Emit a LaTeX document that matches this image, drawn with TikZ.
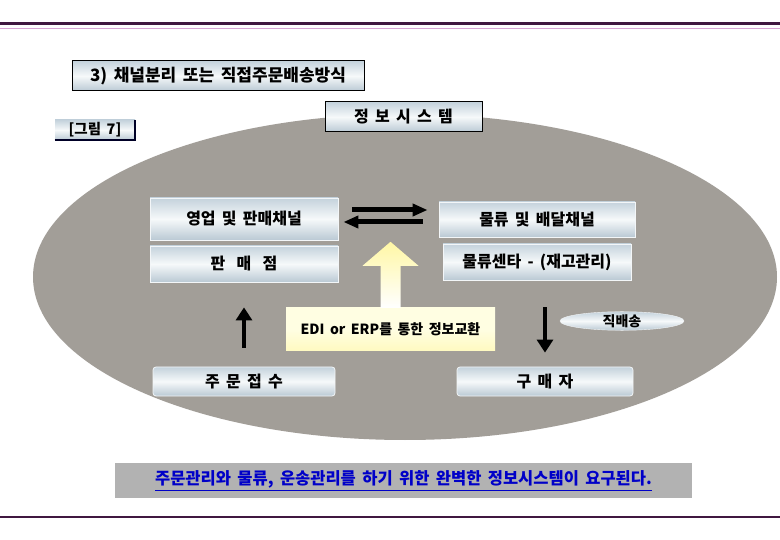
\documentclass[tikz,border=0pt]{standalone}
\usepackage{fontspec}
\setmainfont{Noto Sans CJK KR}[WordSpace=1.7]
\usetikzlibrary{arrows.meta,shapes.geometric}

\definecolor{linedark}{RGB}{64,24,64}
\definecolor{linepink}{RGB}{216,164,212}
\definecolor{ellgray}{RGB}{162,158,152}
\definecolor{boxtop}{RGB}{196,210,220}
\definecolor{boxmid}{RGB}{246,249,250}
\definecolor{boxbot}{RGB}{186,201,212}
\definecolor{edilight}{RGB}{255,254,226}
\definecolor{ediyellow}{RGB}{255,247,165}
\definecolor{notegray}{RGB}{178,178,178}
\definecolor{noteblue}{RGB}{0,0,200}

\tikzset{
  panel/.style={rectangle, inner sep=0pt, top color=boxtop, bottom color=boxbot,
    middle color=boxmid, draw=white!80!boxtop, line width=0.8pt,
    font=\bfseries\fontsize{16}{16}\selectfont},
  headbox/.style={panel, draw=black, line width=1pt,
    font=\bfseries\fontsize{17}{17}\selectfont},
  endbox/.style={panel, rounded corners=3pt, font=\bfseries\fontsize{16}{16}\selectfont},
  edibox/.style={rectangle, inner sep=0pt, top color=edilight, bottom color=ediyellow!70,
    middle color=edilight, font=\bfseries\fontsize{14}{14}\selectfont},
  tagbox/.style={ellipse, inner sep=0pt, top color=boxtop, bottom color=boxbot,
    middle color=boxmid, draw=white!80!boxtop, font=\bfseries\fontsize{14}{14}\selectfont},
  fatarrow/.style={line width=5pt, -{Triangle[length=15pt,width=12pt]}},
  vertarrow/.style={line width=4pt, -{Triangle[length=13pt,width=16pt]}}
}

\begin{document}
\begin{tikzpicture}[x=1pt,y=-1pt]
    \useasboundingbox[fill=white] (0,0) rectangle (780,540);
    \draw[linedark, line width=3pt] (0,24) -- (780,24);
    \draw[linepink, line width=1.5pt] (0,28.5) -- (780,28.5);
    \draw[linedark, line width=2.5pt] (0,517) -- (780,517);

    \fill[ellgray] (405,277) ellipse [x radius=372, y radius=163];

    \node[headbox, minimum width=292pt, minimum height=30pt] (title) at (218,76)
      {3) 채널분리 또는 직접주문배송방식};
    \node[panel, draw=none, minimum width=80pt, minimum height=20pt,
      font=\bfseries\fontsize{14.5}{14.5}\selectfont] (fig) at (95,130) {[그림 7]};
    \draw[black!85!blue, line width=2pt] (fig.south west) -- (fig.south east) -- (fig.north east);
    \node[headbox, minimum width=157pt, minimum height=30pt,
      font=\bfseries\fontsize{16}{16}\selectfont] (infosys) at (403.5,117)
      {정\ 보\ 시\ 스\ 템};

    \node[panel, minimum width=188pt, minimum height=42pt] (sales) at (244,219) {영업 및 판매채널};
    \node[panel, minimum width=188pt, minimum height=36pt] (shop) at (244,264)
      {판\hspace{0.7em}매\hspace{0.7em}점};
    \node[panel, minimum width=196pt, minimum height=35pt] (logi) at (537,219.5) {물류 및 배달채널};
    \node[panel, minimum width=188pt, minimum height=36pt] (center) at (537,262) {물류센타 - (재고관리)};

    \node[edibox, minimum width=209pt, minimum height=43pt] (edi) at (390.5,329.5)
      {EDI or ERP를 통한 정보교환};
    \shade[top color=ediyellow, bottom color=white]
      ([xshift=-10pt]edi.north) -- ++(0,-42) -- ++(-18,0) -- ++(28,-24)
      -- ++(28,24) -- ++(-18,0) -- ++(0,42) -- cycle;

    \node[tagbox, minimum width=124pt, minimum height=18pt] (direct) at (622,321) {직배송};
    \node[endbox, minimum width=182pt, minimum height=29pt] (order) at (244,381.5) {주\ 문\ 접\ 수};
    \node[endbox, minimum width=176pt, minimum height=29pt] (buyer) at (545,381.5) {구\ 매\ 자};

    \draw[fatarrow, shorten <=14pt, shorten >=11pt]
      ([yshift=9pt]sales.east) -- ([yshift=9pt]sales.east -| logi.west);
    \draw[fatarrow, shorten <=16pt, shorten >=5pt]
      ([yshift=-3pt]sales.east -| logi.west) -- ([yshift=-3pt]sales.east);
    \draw[vertarrow, shorten <=19pt, shorten >=25pt] (order.north) -- (order.north |- shop.south);
    \draw[vertarrow, shorten <=27pt, shorten >=14pt] (buyer.north |- center.south) -- (buyer.north);

    \node[fill=notegray, inner sep=0pt, minimum width=577pt, minimum height=35pt,
      font=\bfseries\fontsize{16.5}{16.5}\selectfont, text=noteblue] (note) at (403.5,480.5)
      {\underline{주문관리와 물류, 운송관리를 하기 위한 완벽한 정보시스템이 요구된다.}};
\end{tikzpicture}
\end{document}
